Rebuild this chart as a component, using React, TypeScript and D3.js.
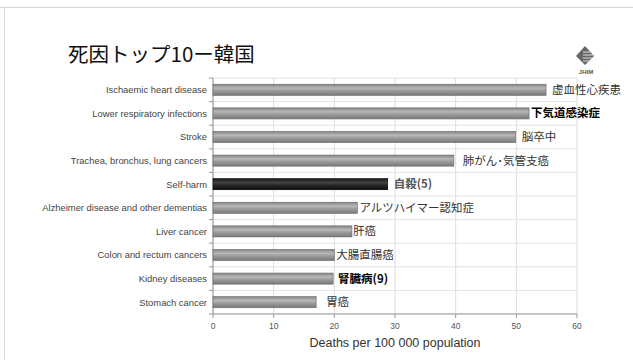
import React from "react";
import * as d3 from "d3";

const categories = [
  "Ischaemic heart disease",
  "Lower respiratory infections",
  "Stroke",
  "Trachea, bronchus, lung cancers",
  "Self-harm",
  "Alzheimer disease and other dementias",
  "Liver cancer",
  "Colon and rectum cancers",
  "Kidney diseases",
  "Stomach cancer",
];
const values = [54.9, 52.1, 49.9, 39.7, 28.8, 23.8, 22.9, 20.0, 19.8, 17.0];
const jpLabels = [
  "虚血性心疾患",
  "下気道感染症",
  "脳卒中",
  "肺がん･気管支癌",
  "自殺(5)",
  "アルツハイマー認知症",
  "肝癌",
  "大腸直腸癌",
  "腎臓病(9)",
  "胃癌",
];
const jpOffsets = [6, 2, 6, 9, 6, 2, 1, 2, 5, 10];
const jpStyle = ["n", "b", "n", "n", "g", "n", "n", "n", "b", "n"];
const highlight = ["Self-harm"];
const xTicks = [0, 10, 20, 30, 40, 50, 60];

export default function App() {
  const W = 633, H = 360;
  const left = 213, right = 577, top = 78, bottom = 314;
  const x = d3.scaleLinear().domain([0, 60]).range([left, right]);
  const y = d3.scaleBand<string>().domain(categories).range([top, bottom]).paddingInner(0.53).paddingOuter(0.265);
  const bounds = d3.range(categories.length + 1).map((i) => top + (i * (bottom - top)) / categories.length);
  const jp = "'Noto Sans CJK JP', sans-serif";
  const lat = "'Liberation Sans', Arial, sans-serif";
  return (
    <svg width={W} height={H} style={{ position: "absolute", left: 0, top: 0, background: "#fff" }}>
      <defs>
        <linearGradient id="gGray" x1="0" y1="0" x2="0" y2="1">
          <stop offset="0" stopColor="#858585" />
          <stop offset="0.35" stopColor="#b8b8b8" />
          <stop offset="0.6" stopColor="#9a9a9a" />
          <stop offset="1" stopColor="#7a7a7a" />
        </linearGradient>
        <linearGradient id="gDark" x1="0" y1="0" x2="0" y2="1">
          <stop offset="0" stopColor="#151515" />
          <stop offset="0.35" stopColor="#444" />
          <stop offset="0.6" stopColor="#262626" />
          <stop offset="1" stopColor="#0e0e0e" />
        </linearGradient>
      </defs>
      {/* slide frame */}
      <line x1={0} x2={W} y1={7.5} y2={7.5} stroke="#d8d8d8" />
      <line x1={4.5} x2={4.5} y1={7} y2={H} stroke="#d8d8d8" />
      {/* title */}
      <text x={68} y={62} fontFamily={jp} fontSize={20.5} fill="#111">死因トップ10ー韓国</text>
      {/* logo */}
      <g transform="translate(585,56)">
        <path d="M0,-10 L9,0 L0,9 L-9,0 Z" fill="#666" />
        <path d="M-2,-4 L7,-4 M-2,-1 L8,-1 M-2,2 L7,2 M-2,5 L5,5" stroke="#ddd" strokeWidth={1.1} />
        <text x={1} y={18} textAnchor="middle" fontFamily={lat} fontSize={6} fontWeight="bold" fill="#555">JHIM</text>
      </g>
      {/* grid */}
      {xTicks.map((t) => (
        <line key={"gx" + t} x1={x(t)} x2={x(t)} y1={top} y2={bottom} stroke="#dcdcdc" />
      ))}
      {bounds.map((b, i) => (
        <line key={"gy" + i} x1={left} x2={right} y1={b} y2={b} stroke="#e2e2e2" />
      ))}
      {/* axes */}
      <line x1={left} x2={left} y1={top} y2={bottom} stroke="#999" />
      <line x1={left} x2={right} y1={bottom} y2={bottom} stroke="#999" />
      {bounds.map((b, i) => (
        <line key={"ty" + i} x1={left - 4} x2={left} y1={b} y2={b} stroke="#999" />
      ))}
      {xTicks.map((t) => (
        <line key={"tx" + t} x1={x(t)} x2={x(t)} y1={bottom} y2={bottom + 4} stroke="#999" />
      ))}
      {xTicks.map((t) => (
        <text key={"lx" + t} x={x(t)} y={bottom + 15} textAnchor="middle" fontFamily={lat} fontSize={8.5} fill="#555">{t}</text>
      ))}
      <text x={(left + right) / 2} y={347} textAnchor="middle" fontFamily={lat} fontSize={12.5} fill="#333">Deaths per 100 000 population</text>
      {/* bars */}
      {categories.map((c, i) => {
        const yy = y(c)!;
        const bw = y.bandwidth();
        const dark = highlight.includes(c);
        return (
          <g key={c}>
            <text x={left - 6} y={yy + bw / 2 + 3.3} textAnchor="end" fontFamily={lat} fontSize={9.4} fill="#444">{c}</text>
            <rect x={x(0)} y={yy} width={x(values[i]) - x(0)} height={bw} fill={dark ? "url(#gDark)" : "url(#gGray)"} stroke={dark ? "#000" : "#666"} strokeWidth={0.6} />
            <text
              x={x(values[i]) + jpOffsets[i]}
              y={yy + bw / 2 + 4}
              fontFamily={jp}
              fontSize={11.5}
              fontWeight={jpStyle[i] === "n" ? "normal" : "bold"}
              fill={jpStyle[i] === "b" ? "#000" : jpStyle[i] === "g" ? "#555" : "#333"}
            >{jpLabels[i]}</text>
          </g>
        );
      })}
    </svg>
  );
}
